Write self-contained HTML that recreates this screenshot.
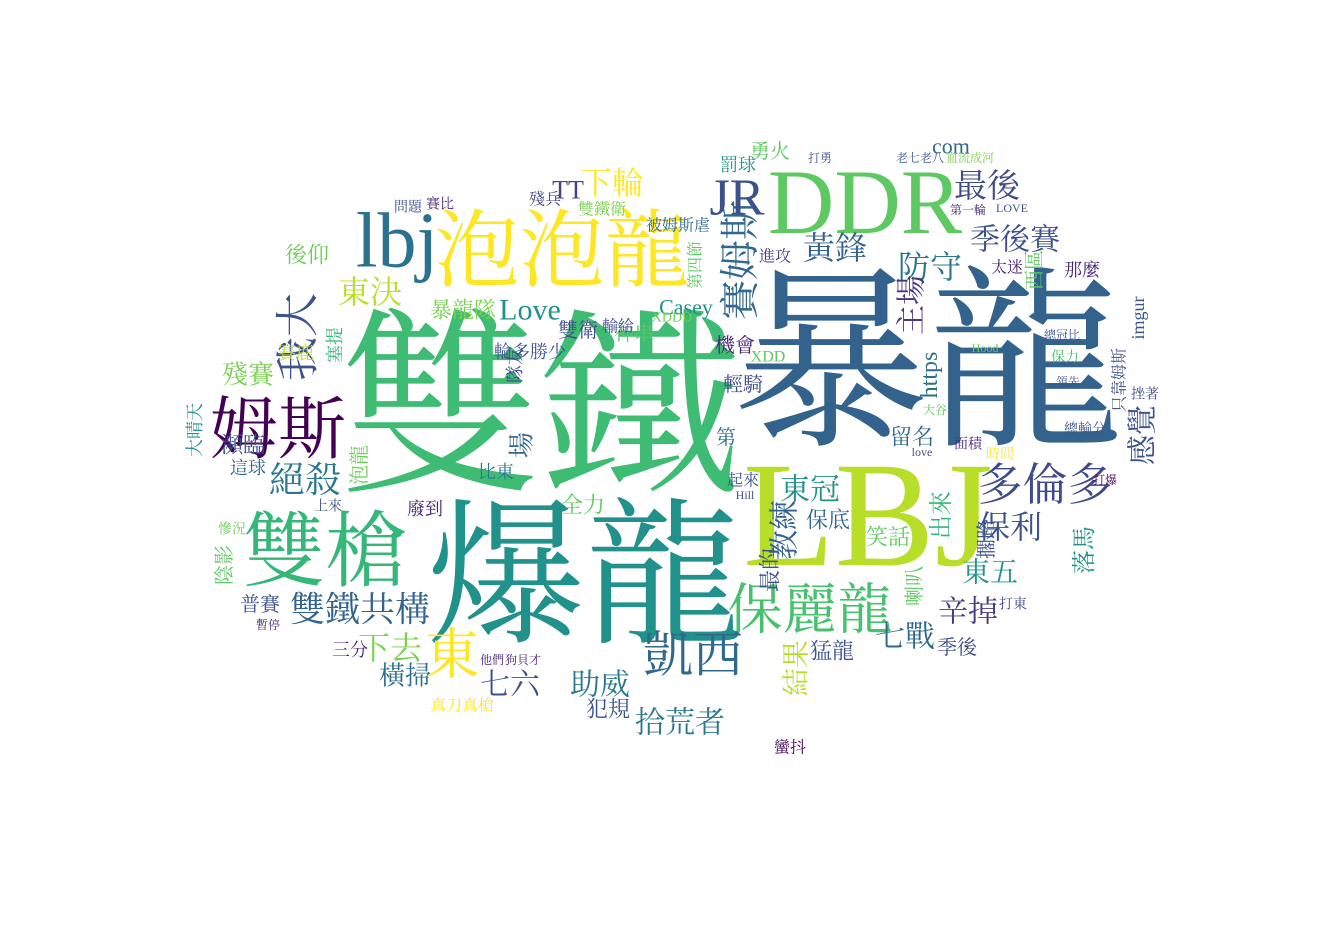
<!DOCTYPE html>
<html><head><meta charset="utf-8"><style>
html,body{margin:0;padding:0;background:#fff;width:1334px;height:945px;overflow:hidden}
svg text{font-family:"Liberation Serif","Noto Serif CJK SC","Noto Sans CJK TC",serif}
</style></head><body>
<svg id="cloud" width="1334" height="945" viewBox="0 0 1334 945"></svg>
<script>
const words = [
"雙鐵","暴龍","爆龍","LBJ","泡泡龍","DDR","lbj","姆斯","雙槍","保麗龍",
"凱西","我大","賽姆斯","JR","多倫多","東","七六","雙鐵共構","最後","季後賽",
"黃鋒","防守","下輪","TT","東決","Love","殘賽","絕殺","下去","橫掃",
"助威","拾荒者","犯規","七戰","辛掉","保利","東五","教練","東冠","主場",
"感覺","落馬","後仰","瀕臨","這球","陰影","普賽","三分","暴龍隊","輪多勝少",
"隊友","賽鹿","雙衛","神串","Casey","https","留名","出來","保底","笑話",
"最的","全力","廢到","比東","場","泡龍","結果","猛龍","季後","喇叭",
"擱路","勇火","罰球","機會","輕騎","第","起來","imgur","西區","那麼",
"太迷","com","被姆斯虐","雙鐵衛","第四節","進攻","XDD","XDDD","殘兵","問題",
"賽比","塞提","大晴天","只靠姆斯","挫著","總輸分","時間","大谷","打東","蠻抖",
"真刀真槍","慘況","LOVE","Hood","打爆","血流成河","老七老八","打勇","保力","領先",
"第一輪","面積","上來","輸給","Hill","love","暫停","他們","狗貝才","總冠比"];
const xs = [
540,928,585,868,562,865,397,278,325,810,
693,298,740,737,1045,452,510,360,987,1015,
835,930,612,568,370,530,248,305,390,405,
600,680,608,905,968,1010,990,785,810,912,
1143,1085,307,243,248,225,260,350,463,530,
515,296,578,634,686,930,912,942,828,888,
770,583,425,496,522,360,797,832,957,915,
987,770,738,735,743,726,743,1138,1035,1082,
1007,951,678,602,696,775,768,672,545,408,
440,335,195,1120,1145,1085,1000,935,1013,790,
462,232,1012,985,1105,970,920,820,1065,1068,
968,968,328,618,745,922,268,492,523,1062];
const ys = [
410,365,578,515,252,202,240,430,552,610,
655,337,260,198,485,655,685,610,187,240,
248,267,183,190,292,310,375,480,648,676,
685,723,709,637,612,527,573,530,490,305,
435,550,255,445,468,565,605,650,310,352,
365,353,331,334,307,375,437,515,520,537,
570,505,509,472,445,465,668,651,648,586,
539,152,165,346,385,438,481,318,270,270,
268,146,226,210,265,257,357,318,200,208,
205,345,430,380,395,430,455,410,605,748,
706,530,208,348,480,158,158,158,358,382,
210,445,507,327,495,452,625,660,660,335];
const sizes = [
200,195,158,150,85,92,78,68,82,55,
50,44,40,52,45,55,30,35,33,30,
32,32,32,26,32,30,26,36,32,26,
30,30,22,30,30,32,28,30,30,30,
30,24,22,22,18,20,20,18,22,18,
18,18,20,20,22,24,22,24,22,22,
22,22,18,18,26,20,28,22,20,20,
20,20,18,20,20,20,16,18,20,18,
16,22,16,16,16,16,16,14,16,14,
14,18,18,16,14,14,14,12,14,16,
16,14,12,12,12,12,12,12,14,12,
12,14,14,16,12,12,12,12,12,12];
const colors = [
"#3fbc73","#33638d","#21918c","#b8de29","#fde725","#5ec962","#2c728e","#440154","#35b779","#48c16e",
"#31688e","#3b528b","#31688e","#3b528b","#3e4a89","#fde725","#3b528b","#33638d","#3e4a89","#3b528b",
"#33638d","#2a788e","#fde725","#414487","#b5de2b","#21918c","#7ad151","#2a788e","#7ad151","#2d708e",
"#2a788e","#2a788e","#3b528b","#31688e","#443983","#3b528b","#21918c","#33638d","#21918c","#443a83",
"#3b528b","#21918c","#6ece58","#3b528b","#31688e","#5ec962","#3b528b","#482475","#7ad151","#3b528b",
"#3e4a89","#bddf26","#3e4a89","#5ec962","#21918c","#2d708e","#31688e","#35b779","#31688e","#5ec962",
"#3b528b","#5ec962","#482475","#2a788e","#31688e","#6ece58","#b5de2b","#3b528b","#3e4a89","#5ec962",
"#3b528b","#5ec962","#21918c","#482475","#3e4a89","#31688e","#3b528b","#3b528b","#5ec962","#482475",
"#482475","#31688e","#31688e","#7ad151","#5ec962","#443983","#5ec962","#6ece58","#414487","#3b528b",
"#482475","#35b779","#21918c","#3b528b","#3e4a89","#3b528b","#fde725","#5ec962","#3e4a89","#440154",
"#fde725","#6ece58","#3b528b","#5ec962","#440154","#7ad151","#3b528b","#3b528b","#48c16e","#3b528b",
"#482475","#482475","#3b528b","#3e4a89","#3b528b","#3b528b","#482475","#482475","#482475","#3b528b"];
const rots = [
0,0,0,0,0,0,0,0,0,0,
0,1,1,0,0,0,0,0,0,0,
0,0,0,0,0,0,0,0,0,0,
0,0,0,0,0,0,0,1,0,1,
1,1,0,0,0,1,0,0,0,0,
1,0,0,0,0,1,0,1,0,0,
1,0,0,0,1,1,1,0,0,1,
1,0,0,0,0,0,0,1,1,0,
0,0,0,0,1,0,0,0,0,0,
0,1,1,1,0,0,0,0,0,0,
0,0,0,0,0,0,0,0,0,0,
0,0,0,0,0,0,0,0,0,0];
const svg = document.getElementById('cloud');
const n = Math.min(words.length, xs.length, ys.length, sizes.length, colors.length, rots.length);
for (let i = 0; i < n; i++) {
  const t = document.createElementNS('http://www.w3.org/2000/svg', 'text');
  
  
  t.setAttribute('x', xs[i]);
  t.setAttribute('y', ys[i]);
  t.setAttribute('font-size', sizes[i]);
  t.setAttribute('fill', colors[i]);
  t.setAttribute('text-anchor', 'middle');
  t.setAttribute('dominant-baseline', 'central');
  if (rots[i]) t.setAttribute('transform', 'rotate(-90 ' + xs[i] + ' ' + ys[i] + ')');
  t.textContent = words[i];
  svg.appendChild(t);
}
</script>
</body></html>
